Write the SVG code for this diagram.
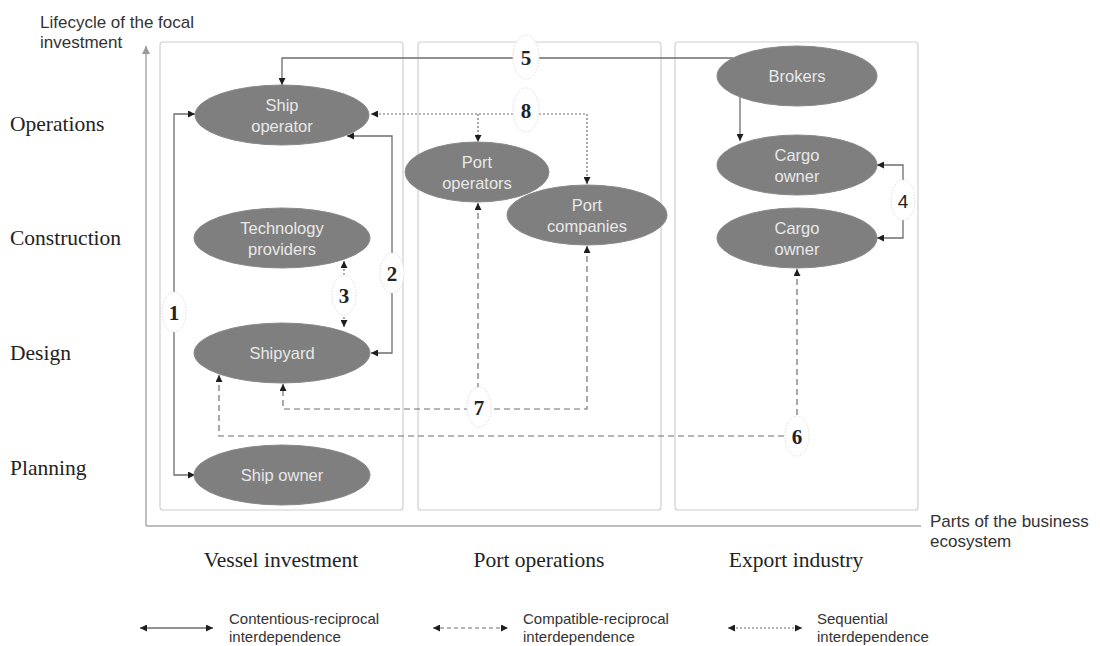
<svg xmlns="http://www.w3.org/2000/svg" width="1100" height="646" viewBox="0 0 1100 646">
<style>
.col{fill:none;stroke:#cfcfcf;stroke-width:1.2}
.axis{fill:none;stroke:#a8a8a8;stroke-width:1.5}
.node{fill:#7f7f7f;stroke:#8a8a8a;stroke-width:1}
.nt{font-family:"Liberation Sans",Arial,sans-serif;font-size:16.5px;fill:#e8e8e8;text-anchor:middle}
.ser{font-family:"Liberation Serif","Times New Roman",serif;font-size:21.5px;fill:#222}
.sans{font-family:"Liberation Sans",Arial,sans-serif;font-size:17px;fill:#333}
.leg{font-family:"Liberation Sans",Arial,sans-serif;font-size:15px;fill:#333}
.solid{fill:none;stroke:#6e6e6e;stroke-width:1.3}
.dash{fill:none;stroke:#6e6e6e;stroke-width:1.2;stroke-dasharray:6 4}
.dot{fill:none;stroke:#6e6e6e;stroke-width:1.2;stroke-dasharray:2 2}
.lb{fill:#fff;stroke:#dddddd;stroke-width:1;stroke-dasharray:1.5 1.5}
.lt{font-family:"Liberation Serif","Times New Roman",serif;font-size:21px;font-weight:bold;fill:#222;text-anchor:middle}
</style>
<defs>
<marker id="arr" viewBox="0 0 10 10" refX="10" refY="5" markerWidth="8" markerHeight="7" markerUnits="userSpaceOnUse" orient="auto-start-reverse">
<path d="M0,0 L10,5 L0,10 z" fill="#1e1e1e"/>
</marker>
<marker id="axarr" viewBox="0 0 10 10" refX="10" refY="5" markerWidth="9" markerHeight="8" markerUnits="userSpaceOnUse" orient="auto">
<path d="M0,0 L10,5 L0,10 z" fill="#999"/>
</marker>
</defs>

<g id="axes">
<path class="axis" d="M146,526 V46" marker-end="url(#axarr)"/>
<path class="axis" d="M146,526 H921"/>
<text class="sans" x="40" y="28">Lifecycle of the focal</text>
<text class="sans" x="40" y="48">investment</text>
<text class="sans" x="930" y="527">Parts of the business</text>
<text class="sans" x="930" y="547">ecosystem</text>
<text class="ser" x="10" y="131">Operations</text>
<text class="ser" x="10" y="245">Construction</text>
<text class="ser" x="10" y="360">Design</text>
<text class="ser" x="10" y="475">Planning</text>
</g>

<g id="columns">
<rect class="col" x="160" y="42" width="243" height="468" rx="3"/>
<rect class="col" x="418" y="42" width="243" height="468" rx="3"/>
<rect class="col" x="675" y="42" width="243" height="468" rx="3"/>
<text class="ser" x="281" y="567" text-anchor="middle">Vessel investment</text>
<text class="ser" x="539" y="567" text-anchor="middle">Port operations</text>
<text class="ser" x="796" y="567" text-anchor="middle">Export industry</text>
</g>

<g id="connectors">
<!-- 1 -->
<path class="solid" d="M195,114 H174 V475 H195" marker-start="url(#arr)" marker-end="url(#arr)"/>
<!-- 2 -->
<path class="solid" d="M347,136 H392 V353 H371" marker-start="url(#arr)" marker-end="url(#arr)"/>
<!-- 3 -->
<path class="dot" d="M344,261 V327" marker-start="url(#arr)" marker-end="url(#arr)"/>
<!-- 5 -->
<path class="solid" d="M733,58 H282 V85" marker-end="url(#arr)"/>
<!-- brokers to cargo owner -->
<path class="solid" d="M740,97 V141" marker-end="url(#arr)"/>
<!-- 4 -->
<path class="solid" d="M877,165 H903 V238 H877" marker-start="url(#arr)" marker-end="url(#arr)"/>
<!-- 8 -->
<path class="dot" d="M587,184 V114 H371" marker-start="url(#arr)" marker-end="url(#arr)"/>
<path class="dot" d="M478,114 V142" marker-end="url(#arr)"/>
<!-- 7 -->
<path class="dash" d="M478,203 V409" marker-start="url(#arr)"/>
<path class="dash" d="M587,246 V409 H283 V384" marker-start="url(#arr)" marker-end="url(#arr)"/>
<!-- 6 -->
<path class="dash" d="M797,269 V436 H219 V375" marker-start="url(#arr)" marker-end="url(#arr)"/>
</g>

<g id="labels">
<ellipse class="lb" cx="174" cy="312" rx="12" ry="20"/><text class="lt" x="174" y="320">1</text>
<ellipse class="lb" cx="392" cy="273" rx="12" ry="20"/><text class="lt" x="392" y="281">2</text>
<ellipse class="lb" cx="344" cy="295" rx="12" ry="20"/><text class="lt" x="344" y="303">3</text>
<ellipse class="lb" cx="903" cy="200" rx="12" ry="20"/><text class="lt" x="903" y="208" style="font-family:'Liberation Sans',Arial,sans-serif;font-weight:normal;font-size:19px">4</text>
<ellipse class="lb" cx="526" cy="57" rx="13" ry="22"/><text class="lt" x="526" y="65">5</text>
<ellipse class="lb" cx="797" cy="436" rx="12" ry="20"/><text class="lt" x="797" y="444">6</text>
<ellipse class="lb" cx="479" cy="407" rx="12" ry="20"/><text class="lt" x="479" y="415">7</text>
<ellipse class="lb" cx="526" cy="110" rx="13" ry="22"/><text class="lt" x="526" y="118">8</text>
</g>

<g id="ship-operator">
<ellipse class="node" cx="282" cy="115" rx="87" ry="30"/>
<text class="nt" x="282" y="111">Ship</text>
<text class="nt" x="282" y="132">operator</text>
</g>
<g id="technology-providers">
<ellipse class="node" cx="282" cy="238" rx="88" ry="30"/>
<text class="nt" x="282" y="234">Technology</text>
<text class="nt" x="282" y="255">providers</text>
</g>
<g id="shipyard">
<ellipse class="node" cx="282" cy="353" rx="88" ry="30"/>
<text class="nt" x="282" y="359">Shipyard</text>
</g>
<g id="ship-owner">
<ellipse class="node" cx="282" cy="475" rx="88" ry="30"/>
<text class="nt" x="282" y="481">Ship owner</text>
</g>
<g id="port-operators">
<ellipse class="node" cx="477" cy="172" rx="72" ry="30"/>
<text class="nt" x="477" y="168">Port</text>
<text class="nt" x="477" y="189">operators</text>
</g>
<g id="port-companies">
<ellipse class="node" cx="587" cy="215" rx="80" ry="30"/>
<text class="nt" x="587" y="211">Port</text>
<text class="nt" x="587" y="232">companies</text>
</g>
<g id="brokers">
<ellipse class="node" cx="797" cy="76" rx="80" ry="30"/>
<text class="nt" x="797" y="82">Brokers</text>
</g>
<g id="cargo-owner-1">
<ellipse class="node" cx="797" cy="165" rx="80" ry="30"/>
<text class="nt" x="797" y="161">Cargo</text>
<text class="nt" x="797" y="182">owner</text>
</g>
<g id="cargo-owner-2">
<ellipse class="node" cx="797" cy="238" rx="80" ry="30"/>
<text class="nt" x="797" y="234">Cargo</text>
<text class="nt" x="797" y="255">owner</text>
</g>

<g id="legend">
<path class="solid" d="M140,628 H213" marker-start="url(#arr)" marker-end="url(#arr)"/>
<text class="leg" x="229" y="624">Contentious-reciprocal</text>
<text class="leg" x="229" y="642">interdependence</text>
<path class="dash" d="M433,628 H508" marker-start="url(#arr)" marker-end="url(#arr)" style="stroke-dasharray:4 3"/>
<text class="leg" x="523" y="624">Compatible-reciprocal</text>
<text class="leg" x="523" y="642">interdependence</text>
<path class="dot" d="M728,628 H802" marker-start="url(#arr)" marker-end="url(#arr)"/>
<text class="leg" x="817" y="624">Sequential</text>
<text class="leg" x="817" y="642">interdependence</text>
</g>
</svg>
